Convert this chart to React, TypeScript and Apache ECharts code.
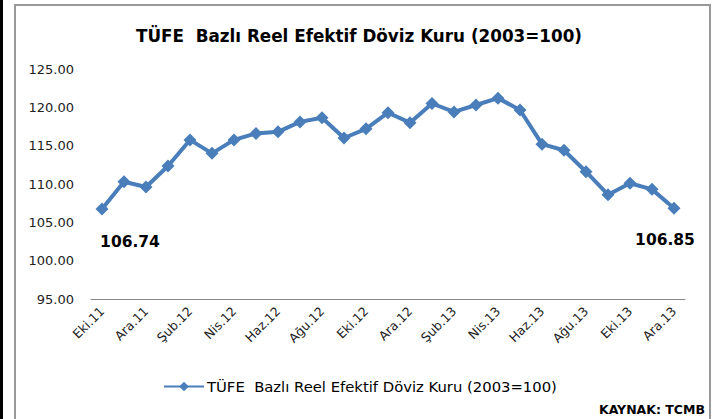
import React, { useEffect, useRef } from "react";
import * as echarts from "echarts";

const categories = [
  "Eki.11", "Kas.11", "Ara.11", "Oca.12", "Şub.12", "Mar.12", "Nis.12", "May.12", "Haz.12",
  "Tem.12", "Ağu.12", "Eyl.12", "Eki.12", "Kas.12", "Ara.12", "Oca.13", "Şub.13", "Mar.13",
  "Nis.13", "May.13", "Haz.13", "Tem.13", "Ağu.13", "Eyl.13", "Eki.13", "Kas.13", "Ara.13",
];
const values = [
  106.74, 110.3, 109.6, 112.35, 115.75, 114.0, 115.75, 116.6, 116.8,
  118.1, 118.65, 116.0, 117.2, 119.3, 118.0, 120.5, 119.4, 120.3,
  121.2, 119.65, 115.2, 114.4, 111.6, 108.6, 110.1, 109.3, 106.85,
];
const seriesName = "TÜFE  Bazlı Reel Efektif Döviz Kuru (2003=100)";
const titleText = "TÜFE  Bazlı Reel Efektif Döviz Kuru (2003=100)";
const sourceText = "KAYNAK: TCMB";
const yMin = 95;
const yMax = 125;
const yStep = 5;

const FONT = "'DejaVu Sans', sans-serif";

export default function App() {
  const ref = useRef<HTMLDivElement>(null);
  useEffect(() => {
    if (!ref.current) return;
    const chart = echarts.init(ref.current, undefined, { renderer: "svg" });
    const last = values.length - 1;
    const endLabel = (offset: number[]) => ({
      show: true,
      position: "bottom",
      offset,
      formatter: (p: any) => p.value.toFixed(2),
      fontFamily: FONT,
      fontSize: 15.5,
      fontWeight: "bold",
      color: "#000",
    });
    chart.setOption({
      animation: false,
      backgroundColor: "#ffffff",
      textStyle: { fontFamily: FONT },
      title: {
        text: titleText,
        left: "center",
        top: 22,
        textStyle: { fontFamily: FONT, fontSize: 16.8, fontWeight: "bold", color: "#000" },
      },
      legend: {
        left: 163,
        top: 379,
        padding: 0,
        itemWidth: 40,
        itemHeight: 12,
        itemGap: 5,
        textStyle: { fontFamily: FONT, fontSize: 14.8, color: "#000", padding: [0, 0, 0, -2] },
        data: [seriesName],
      },
      grid: { left: 91, right: 33, top: 69, bottom: 120, containLabel: false },
      xAxis: {
        type: "category",
        data: categories,
        boundaryGap: true,
        axisLine: { show: true, lineStyle: { color: "#888", width: 1 } },
        axisTick: { show: false },
        axisLabel: {
          interval: 1,
          rotate: 45,
          fontFamily: FONT,
          fontSize: 12.5,
          color: "#222",
          margin: 10,
        },
      },
      yAxis: {
        type: "value",
        min: yMin,
        max: yMax,
        interval: yStep,
        axisLine: { show: false },
        axisTick: { show: false },
        splitLine: { show: false },
        axisLabel: {
          fontFamily: FONT,
          fontSize: 13,
          color: "#222",
          margin: 17,
          formatter: (v: number) => v.toFixed(2),
        },
      },
      series: [
        {
          name: seriesName,
          type: "line",
          data: values.map((v, i) => {
            if (i === 0) return { value: v, label: endLabel([28, 14]) };
            if (i === last) return { value: v, label: endLabel([-9, 12]) };
            return v;
          }),
          symbol: "diamond",
          symbolSize: 13,
          showSymbol: true,
          lineStyle: { color: "#4A7EBB", width: 4 },
          itemStyle: { color: "#4A7EBB" },
          label: { show: false },
        },
      ],
      graphic: [
        { type: "rect", shape: { x: 0, y: 0, width: 3, height: 419 }, style: { fill: "#000" } },
        {
          type: "rect",
          shape: { x: 15, y: 5, width: 695, height: 430 },
          style: { fill: "none", stroke: "#999", lineWidth: 2 },
        },
        {
          type: "text",
          right: 13,
          top: 403,
          style: {
            text: sourceText,
            font: "bold 12.5px " + FONT,
            fill: "#000",
          },
        },
      ],
    });
    return () => chart.dispose();
  }, []);
  return (
    <div
      ref={ref}
      style={{ position: "fixed", left: 0, top: 0, width: 718, height: 419 }}
    />
  );
}
